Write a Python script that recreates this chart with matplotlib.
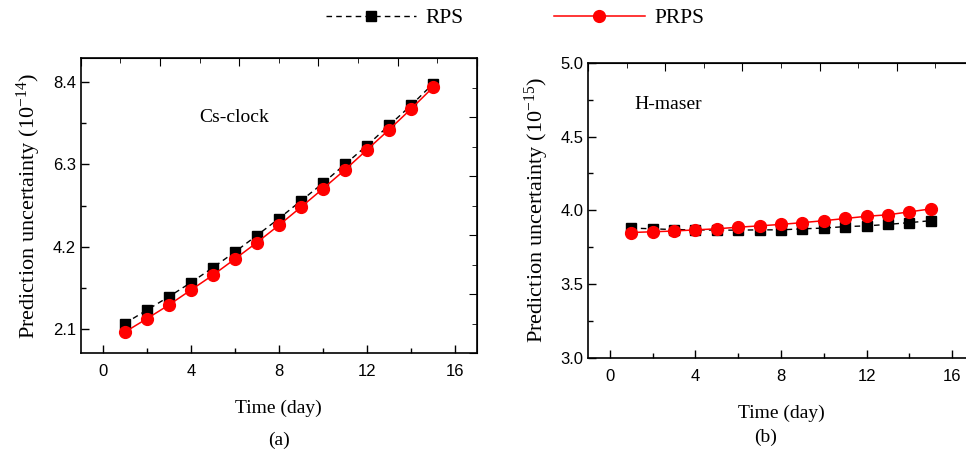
import matplotlib

matplotlib.use("Agg")

import matplotlib.pyplot as plt
from matplotlib.ticker import MultipleLocator

plt.rcParams["font.family"] = ["Liberation Serif", "DejaVu Serif"]
plt.rcParams["mathtext.fontset"] = "stix"

days = list(range(1, 16))

# Cs-clock, units of 1e-14
cs_rps = [2.25, 2.59, 2.93, 3.29, 3.67, 4.07, 4.49, 4.92, 5.37, 5.82,
          6.30, 6.78, 7.29, 7.80, 8.35]
cs_prps = [2.03, 2.37, 2.72, 3.10, 3.48, 3.89, 4.31, 4.75, 5.21, 5.68,
           6.16, 6.67, 7.18, 7.71, 8.26]

# H-maser, units of 1e-15
hm_rps = [3.880, 3.875, 3.870, 3.868, 3.866, 3.866, 3.868, 3.868, 3.875, 3.880,
          3.890, 3.895, 3.905, 3.917, 3.930]
hm_prps = [3.850, 3.855, 3.860, 3.868, 3.875, 3.886, 3.895, 3.905, 3.917, 3.930,
           3.945, 3.960, 3.970, 3.990, 4.010]

TICK_FONT = {"family": "Liberation Sans", "size": 12}
RPS_STYLE = dict(color="black", linestyle="--", dashes=(4, 3), linewidth=1.0,
                 marker="s", markersize=7, markerfacecolor="black",
                 markeredgecolor="black")
PRPS_STYLE = dict(color="red", linestyle="-", linewidth=1.1,
                  marker="o", markersize=8.5, markerfacecolor="red",
                  markeredgecolor="red")


def _style_axes(ax, ymajor, yminor, top_major, top_minor, right_major, right_minor):
    ax.xaxis.set_major_locator(MultipleLocator(4))
    ax.xaxis.set_minor_locator(MultipleLocator(2))
    ax.yaxis.set_major_locator(MultipleLocator(ymajor))
    ax.yaxis.set_minor_locator(MultipleLocator(yminor))
    ax.tick_params(which="major", direction="in", length=6, width=1.0)
    ax.tick_params(which="minor", direction="in", length=3.5, width=1.0)
    for lab in ax.get_xticklabels() + ax.get_yticklabels():
        lab.set_fontfamily(TICK_FONT["family"])
        lab.set_fontsize(TICK_FONT["size"])
    ax.tick_params(axis="x", pad=8)
    for spine in ax.spines.values():
        spine.set_linewidth(1.2)

    top = ax.secondary_xaxis("top")
    top.set_xticks(top_major)
    top.set_xticks(top_minor, minor=True)
    top.tick_params(which="major", direction="in", length=6, labeltop=False)
    top.tick_params(which="minor", direction="in", length=3.5, labeltop=False)

    right = ax.secondary_yaxis("right")
    right.set_yticks(right_major)
    right.set_yticks(right_minor, minor=True)
    right.tick_params(which="major", direction="in", length=6, labelright=False)
    right.tick_params(which="minor", direction="in", length=3.5, labelright=False)


fig = plt.figure(figsize=(9.66, 4.58), dpi=100)
ax_a = fig.add_axes([0.0835, 0.2293, 0.4103, 0.6434])
ax_b = fig.add_axes([0.609, 0.2183, 0.399, 0.6448])

top_major = [-1, 2.6, 6.2, 9.8, 13.4, 17]
top_minor = [0.8, 4.4, 8.0, 11.6, 15.2]

# (a) Cs-clock
rps_line, = ax_a.plot(days, cs_rps, label="RPS", **RPS_STYLE)
prps_line, = ax_a.plot(days, cs_prps, label="PRPS", **PRPS_STYLE)
ax_a.set_xlim(-1, 17)
ax_a.set_ylim(1.5, 9.0)
ax_a.set_yticks([2.1, 4.2, 6.3, 8.4])
_style_axes(ax_a, 2.1, 1.05, top_major, top_minor,
            [1.5, 3.0, 4.5, 6.0, 7.5, 9.0], [2.25, 3.75, 5.25, 6.75, 8.25])
ax_a.set_xlabel("Time (day)", fontsize=14, labelpad=15)
ax_a.set_ylabel(r"Prediction uncertainty ($\mathregular{10^{-14}}$)", fontsize=16,
                labelpad=7)
ax_a.text(0.30, 0.80, "Cs-clock", transform=ax_a.transAxes, fontsize=14,
          ha="left", va="center")
ax_a.text(0.5, -0.295, "(a)", transform=ax_a.transAxes, fontsize=14,
          ha="center", va="center")

# (b) H-maser
ax_b.plot(days, hm_rps, **RPS_STYLE)
ax_b.plot(days, hm_prps, **PRPS_STYLE)
ax_b.set_xlim(-1, 17)
ax_b.set_ylim(3.0, 5.0)
_style_axes(ax_b, 0.5, 0.25, top_major, top_minor,
            [3.0, 3.5, 4.0, 4.5, 5.0], [3.25, 3.75, 4.25, 4.75])
ax_b.set_xlabel("Time (day)", fontsize=14, labelpad=15)
ax_b.set_ylabel(r"Prediction uncertainty ($\mathregular{10^{-15}}$)", fontsize=16,
                labelpad=7)
ax_b.text(0.12, 0.86, "H-maser", transform=ax_b.transAxes, fontsize=14,
          ha="left", va="center")
ax_b.text(0.46, -0.27, "(b)", transform=ax_b.transAxes, fontsize=14,
          ha="center", va="center")

fig.legend(handles=[rps_line, prps_line], loc="center",
           bbox_to_anchor=(0.533, 0.96), ncol=2, frameon=False,
           fontsize=15.5, handlelength=4.2, handletextpad=0.45,
           columnspacing=4.2)

fig.savefig("out.png", dpi=100)
